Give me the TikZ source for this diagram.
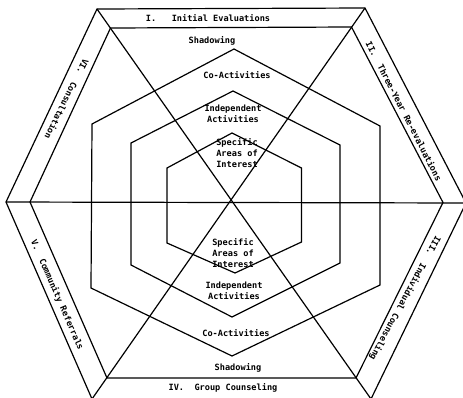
\documentclass[tikz,border=0pt]{standalone}
\usepackage{fontspec}
\setmonofont{DejaVu Sans Mono}
\begin{document}
\begin{tikzpicture}[x=1pt,y=-1pt, line width=1.2pt, line join=miter,
  lbl/.style={font=\ttfamily\bfseries\fontsize{8.6}{11}\selectfont, align=center, inner sep=0pt},
  band/.style={font=\ttfamily\bfseries\fontsize{8.6}{11}\selectfont, inner sep=0pt}]
\fill[white] (0,0) rectangle (463,397);
\useasboundingbox (0,0) rectangle (463,397);
\clip (0,0) rectangle (463,397);
% outer hexagon
\coordinate (O1) at (97,9);
\coordinate (O2) at (365,8);
\coordinate (O3) at (466,203);
\coordinate (O4) at (371,399);
\coordinate (O5) at (92,399);
\coordinate (O6) at (6,202);
% inner band hexagon
\coordinate (I1) at (110.5,28);
\coordinate (I2) at (351.5,27);
\coordinate (I3) at (443,202.5);
\coordinate (I4) at (356,378);
\coordinate (I5) at (107,378);
\coordinate (I6) at (30,202);
\draw (O1)--(O2)--(O3)--(O4)--(O5)--(O6)--cycle;
\draw (I1)--(I2)--(I3)--(I4)--(I5)--(I6)--cycle;
% spokes
\draw (O1)--(O4);
\draw (O2)--(O5);
\draw (O6)--(O3);
% hexagon 2 (Shadowing / Co-Activities)
\coordinate (A1) at (234,49);
\coordinate (A2) at (380,126);
\coordinate (A3) at (380,285);
\coordinate (A4) at (232,356);
\coordinate (A5) at (91,288);
\coordinate (A6) at (92,124);
\draw (A1)--(A2)--(A3)--(A4)--(A5)--(A6)--cycle;
% hexagon 3
\coordinate (B1) at (233,91);
\coordinate (B2) at (340,145);
\coordinate (B3) at (340,263);
\coordinate (B4) at (232,317);
\coordinate (B5) at (131,265);
\coordinate (B6) at (131,143);
\draw (B1)--(B2)--(B3)--(B4)--(B5)--(B6)--cycle;
% hexagon 4 (innermost)
\coordinate (C1) at (232,133);
\coordinate (C2) at (301.5,168);
\coordinate (C3) at (301.5,242);
\coordinate (C4) at (235,273);
\coordinate (C5) at (167,243);
\coordinate (C6) at (167,168);
\draw (C1)--(C2)--(C3)--(C4)--(C5)--(C6)--cycle;
% band labels
\node[band] (t1) at (208,18) {I.~~~Initial Evaluations};
\node[band, rotate=-62.8] (t2) at (404,111) {II.~~Three-Year Re-evaluations};
\node[band, rotate=-118.3] (t3) at (405,298) {III.~~Individual Counseling};
\node[band] (t4) at (223,388) {IV.~~Group Counseling};
\node[band, rotate=-66.4] (t5) at (57,295) {V.~~Community Referrals};
\node[band, rotate=-116.3] (t6) at (67,99) {VI.~~Consultation};
% inner labels
\node[lbl] (s1) at (212,41) {Shadowing};
\node[lbl] (c1) at (237,75) {Co-Activities};
\node[lbl] (i1) at (233,114) {Independent\\Activities};
\node[lbl] (a1) at (237,153) {Specific\\Areas of\\Interest};
\node[lbl] (a2) at (233,253) {Specific\\Areas of\\Interest};
\node[lbl] (i2) at (234,291) {Independent\\Activities};
\node[lbl] (c2) at (236,333) {Co-Activities};
\node[lbl] (s2) at (238,368) {Shadowing};
\end{tikzpicture}
\end{document}
